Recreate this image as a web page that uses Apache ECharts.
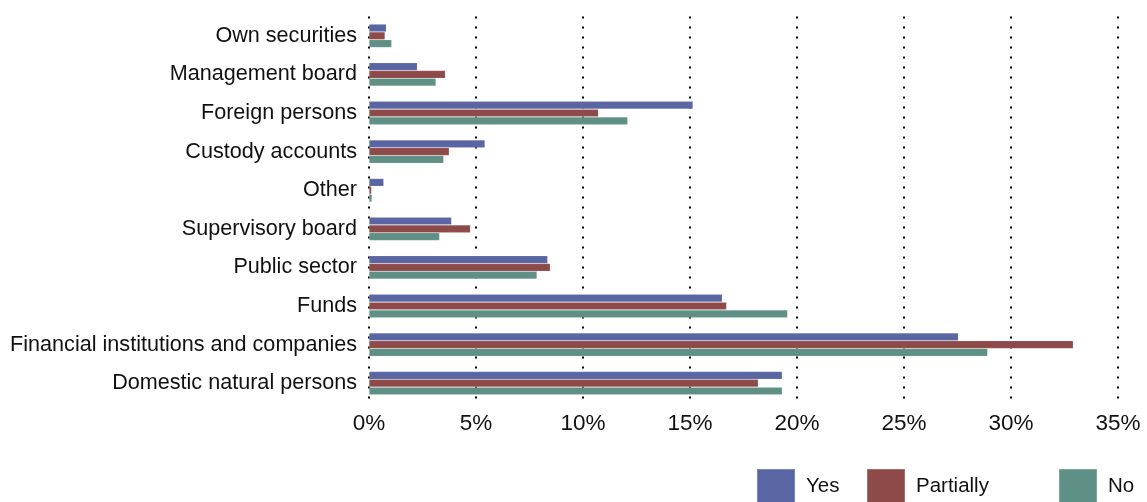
<!DOCTYPE html>
<html>
<head>
<meta charset="utf-8">
<script src="https://cdn.jsdelivr.net/npm/echarts@6/dist/echarts.min.js"></script>
<style>
html,body{margin:0;padding:0;background:#fff;}
#chart{width:1147px;height:502px;}
</style>
</head>
<body>
<div id="chart"></div>
<script>
const categories = ['Own securities','Management board','Foreign persons','Custody accounts','Other','Supervisory board','Public sector','Funds','Financial institutions and companies','Domestic natural persons'];
const yesValues = [0.81, 2.26, 15.14, 5.42, 0.69, 3.86, 8.35, 16.51, 27.54, 19.31];
const partiallyValues = [0.75, 3.57, 10.72, 3.75, 0.12, 4.74, 8.47, 16.71, 32.91, 18.19];
const noValues = [1.06, 3.13, 12.09, 3.49, 0.14, 3.30, 7.85, 19.56, 28.91, 19.31];
const xTicks = [0, 5, 10, 15, 20, 25, 30, 35];

const FONT = '"Liberation Sans", Arial, Helvetica, sans-serif';
const colors = {Yes:'#5a66a3', Partially:'#8e4a49', No:'#5f9085'};

const chart = echarts.init(document.getElementById('chart'), null, {renderer:'canvas'});
function mkSeries(name, data){
  return {
    name: name, type:'bar', data: data, barWidth: 7.8, barGap:'0%', barCategoryGap:'40%',
    itemStyle:{color: colors[name], borderColor:'rgba(255,255,255,0.2)', borderWidth:0.6},
    emphasis:{disabled:true}, animation:false
  };
}
function mkLegend(name, left){
  return {
    data:[name], left:left, top:468, padding:0, orient:'horizontal', icon:'rect',
    itemWidth:38, itemHeight:34, selectedMode:false,
    textStyle:{fontFamily:FONT, fontSize:20.5, color:'#111', padding:[5,0,0,6]}
  };
}
chart.setOption({
  animation:false,
  color:[colors.Yes, colors.Partially, colors.No],
  grid:{left:369, right:29, top:16.5, bottom:99.5, containLabel:false},
  legend:[mkLegend('Yes',756), mkLegend('Partially',866), mkLegend('No',1058)],
  xAxis:{
    type:'value', min:xTicks[0], max:xTicks[xTicks.length-1], interval:5,
    axisLine:{show:false}, axisTick:{show:false},
    axisLabel:{formatter:'{value}%', fontFamily:FONT, fontSize:22.5, color:'#111', margin:10},
    splitLine:{show:true, lineStyle:{color:'#000', width:2, type:[2,8]}}
  },
  yAxis:{
    type:'category', data:categories, inverse:true,
    axisLine:{show:false}, axisTick:{show:false},
    axisLabel:{fontFamily:FONT, fontSize:21.6, color:'#111', margin:12}
  },
  series:[mkSeries('Yes', yesValues), mkSeries('Partially', partiallyValues), mkSeries('No', noValues)]
});
</script>
</body>
</html>
